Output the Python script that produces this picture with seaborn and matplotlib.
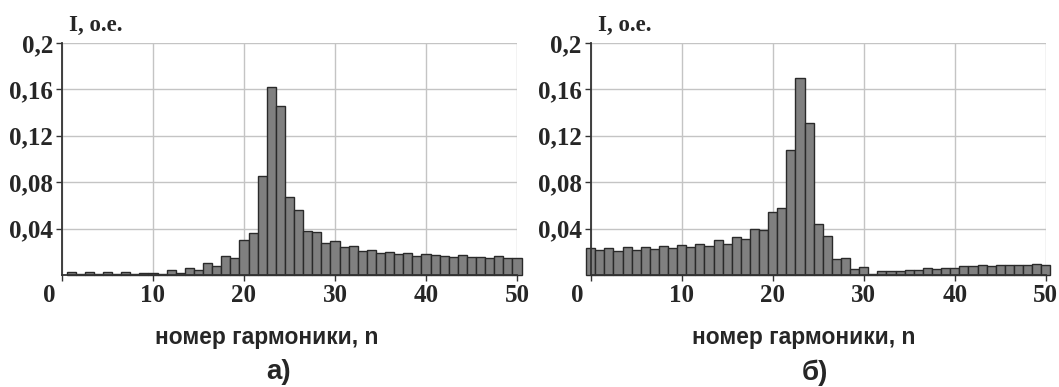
import numpy as np
import matplotlib
matplotlib.use("Agg")
import matplotlib.pyplot as plt
import matplotlib.transforms as mtransforms
import seaborn as sns

# harmonic spectra, a) and b)
n_a = list(range(1, 51))
i_a = [0.003, 0.001, 0.003, 0.001, 0.003, 0.001, 0.003, 0.001, 0.002, 0.002,
       0.001, 0.0043, 0.002, 0.006, 0.0043, 0.010, 0.008, 0.0164, 0.015, 0.0305,
       0.036, 0.085, 0.162, 0.146, 0.067, 0.0557, 0.0376, 0.0368, 0.0279, 0.029,
       0.0239, 0.0247, 0.0207, 0.0218, 0.019, 0.0195, 0.0178, 0.019, 0.0167, 0.0178,
       0.017, 0.0167, 0.0158, 0.017, 0.0158, 0.0158, 0.0147, 0.016, 0.015, 0.015]

n_b = list(range(0, 51))
i_b = [0.0233, 0.0213, 0.0233, 0.021, 0.0241, 0.0218, 0.0241, 0.0221, 0.025, 0.023,
       0.0259, 0.0241, 0.027, 0.025, 0.0302, 0.027, 0.033, 0.0313, 0.040, 0.039,
       0.0543, 0.058, 0.1078, 0.170, 0.131, 0.044, 0.0336, 0.0135, 0.0147, 0.0049,
       0.0066, 0.001, 0.0034, 0.0034, 0.0034, 0.0046, 0.0046, 0.0063, 0.0055, 0.0063,
       0.0063, 0.0075, 0.0075, 0.0086, 0.0075, 0.0083, 0.0083, 0.0083, 0.0083, 0.0098,
       0.0086]

y_ticks = [0.04, 0.08, 0.12, 0.16, 0.2]
y_labels = ["0,04", "0,08", "0,12", "0,16", "0,2"]
x_ticks = [0, 10, 20, 30, 40, 50]
xlabel = "номер гармоники, n"
ylabel = "I, o.e."
captions = ["а)", "б)"]

sns.set_theme(style="white")
plt.rcParams["font.family"] = ["Liberation Serif", "DejaVu Serif"]

fig = plt.figure(figsize=(10.59, 3.87), dpi=100)
ax_a = fig.add_axes([0.0585, 0.2894, 0.4297, 0.5995])
ax_b = fig.add_axes([0.5578, 0.2894, 0.4297, 0.5995])

panels = [(ax_a, n_a, i_a, 0.45), (ax_b, n_b, i_b, 0.467)]
for k, (ax, n, vals, xl) in enumerate(panels):
    ax.set_axisbelow(True)
    sns.barplot(x=n, y=vals, native_scale=True, width=1, color="#808080",
                saturation=1, edgecolor="#2a2a2a", linewidth=1, ax=ax)
    for p in ax.patches:
        p.set_clip_on(False)
        p.set_zorder(3)
    ax.set_xlim(0, 50)
    ax.set_ylim(0, 0.2)
    ax.set_xticks(x_ticks)
    ax.set_xticklabels([str(t) for t in x_ticks])
    ax.set_yticks(y_ticks)
    ax.set_yticklabels(y_labels)
    ax.grid(True, color="#c4c4c4", linewidth=1)
    for s in ["top", "right"]:
        ax.spines[s].set_visible(False)
    for s in ["left", "bottom"]:
        ax.spines[s].set_color("#333333")
        ax.spines[s].set_linewidth(1.3)
        ax.spines[s].set_zorder(4)
    ax.tick_params(axis="both", which="major", length=4, width=1, color="#333333",
                   labelsize=18, pad=2.5, bottom=True, left=True)
    for lab in ax.get_xticklabels() + ax.get_yticklabels():
        lab.set_fontweight("bold")
    # the corner "0" sits left of the axis
    first = ax.get_xticklabels()[0]
    first.set_transform(first.get_transform() +
                        mtransforms.ScaledTranslation(-13 / 100, 0, fig.dpi_scale_trans))
    ax.set_xlabel(xlabel, family=["Liberation Sans", "DejaVu Sans"],
                  fontweight="bold", fontsize=16.4)
    ax.xaxis.set_label_coords(xl, -0.22)
    ax.set_ylabel("")
    ax.text(0.015, 1.075, ylabel, transform=ax.transAxes, fontsize=16.5,
            fontweight="bold", va="center", ha="left")
    ax.text(xl + 0.025, -0.42, captions[k], transform=ax.transAxes,
            family=["Liberation Sans", "DejaVu Sans"], fontweight="bold",
            fontsize=20, ha="center", va="center")

fig.savefig("out.png", dpi=100, facecolor="white")
